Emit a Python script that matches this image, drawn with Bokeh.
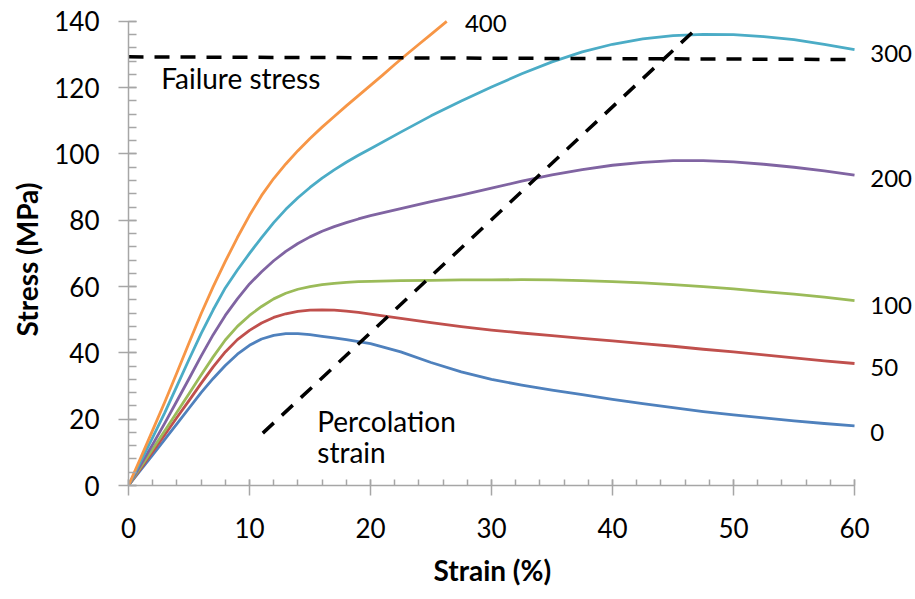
from bokeh.plotting import figure
from bokeh.models import Range1d, SingleIntervalTicker, ColumnDataSource, Title
from bokeh.core.properties import value
from bokeh.embed import file_html
from bokeh.resources import INLINE

# ---------------- data ----------------
strain = [0, 1, 2, 3, 4, 5, 6, 7, 8, 9, 10, 11, 12, 13, 14, 15, 16, 17, 18, 19, 20,
          22.5, 25, 27.5, 30, 32.5, 35, 37.5, 40, 42.5, 45, 47.5, 50, 52.5, 55, 57.5, 60]
stress_0 = [0, 4.6, 9.2, 13.9, 18.6, 23.3, 28.0, 32.3, 36.2, 39.6, 42.3, 44.2, 45.3, 45.8, 45.8,
            45.5, 45.0, 44.5, 44.0, 43.4, 42.8,
            40.3, 37.1, 34.3, 32.0, 30.3, 28.8, 27.4, 26.0, 24.7, 23.5, 22.3, 21.3, 20.4, 19.5, 18.7, 18.0]
stress_50 = [0, 5.1, 10.2, 15.3, 20.5, 25.6, 30.8, 35.8, 40.3, 44.0, 46.8, 49.0, 50.7, 51.8, 52.5,
             52.9, 53.0, 52.9, 52.6, 52.2, 51.7,
             50.4, 49.1, 47.9, 46.9, 46.0, 45.2, 44.4, 43.6, 42.8, 42.0, 41.1, 40.3, 39.4, 38.5, 37.6, 36.8]
stress_100 = [0, 5.5, 11.0, 16.5, 22.1, 27.7, 33.3, 38.8, 43.9, 48.0, 51.3, 54.0, 56.3, 58.0, 59.2,
              60.0, 60.6, 61.0, 61.3, 61.5, 61.6,
              61.8, 61.9, 62.0, 62.0, 62.1, 62.0, 61.8, 61.5, 61.1, 60.6, 60.0, 59.3, 58.5, 57.7, 56.8, 55.8]
stress_200 = [0, 6.2, 12.4, 18.8, 25.5, 32.2, 39.0, 45.5, 51.3, 56.3, 60.8, 64.5, 67.8, 70.6, 73.0,
              75.0, 76.7, 78.1, 79.3, 80.4, 81.4,
              83.5, 85.6, 87.6, 89.7, 91.8, 93.7, 95.3, 96.6, 97.5, 98.0, 98.0, 97.6, 96.9, 96.0, 94.9, 93.6]
stress_300 = [0, 7.2, 14.5, 22.0, 30.0, 38.0, 45.8, 53.0, 59.6, 65.0, 70.0, 74.8, 79.3, 83.3, 86.8,
              89.9, 92.7, 95.2, 97.5, 99.6, 101.6,
              106.6, 111.5, 116.0, 120.2, 124.2, 127.8, 130.8, 133.1, 134.7, 135.7, 136.1, 136.0, 135.4, 134.5, 133.1, 131.5]
strain_400 = [0, 1, 2, 3, 4, 5, 6, 7, 8, 9, 10, 11, 12, 13, 14, 15, 16, 17, 18, 19, 20,
              21, 22, 23, 24, 25, 26, 26.3]
stress_400 = [0, 8.3, 16.7, 25.2, 34.0, 43.0, 51.8, 60.0, 67.6, 74.8, 81.5, 87.5, 92.6, 97.0, 101.0,
              104.7, 108.1, 111.3, 114.5, 117.6, 120.7,
              123.8, 127.0, 130.1, 133.1, 136.1, 139.1, 140.0]

series_names = ["0", "50", "100", "200", "300", "400"]
series_colors = ["#4F81BD", "#C0504D", "#9BBB59", "#8064A2", "#4BACC6", "#F79646"]

failure_x = [0, 60]
failure_y = [129.3, 128.5]
percolation_x = [11.1, 46.6]
percolation_y = [15.8, 136.7]

x_ticks_interval = 10
y_ticks_interval = 20

x_title = "Strain (%)"
y_title = "Stress (MPa)"

# label placement (layout)
name_label_x = [61.3, 61.3, 61.3, 61.3, 61.3, 27.8]
name_label_y = [16.0, 35.6, 54.3, 92.6, 130.3, 139.3]

FONT = "Lato"

p = figure(width=915, height=599, output_backend="svg", toolbar_location=None,
           x_range=Range1d(0, 65.04), y_range=Range1d(0, 146.3),
           min_border_left=128, min_border_right=0, min_border_top=0,
           min_border_bottom=114)
p.outline_line_color = None
p.grid.visible = False
p.background_fill_color = "white"
p.border_fill_color = "white"

xs_all = [strain] * 5 + [strain_400]
ys_all = [stress_0, stress_50, stress_100, stress_200, stress_300, stress_400]
for xs, ys, c in zip(xs_all, ys_all, series_colors):
    p.line(xs, ys, line_color=c, line_width=2.8, line_join="round")

p.line(failure_x, failure_y, line_color="black", line_width=3.5, line_dash="15 11")
p.line(percolation_x, percolation_y, line_color="black", line_width=3.5, line_dash="15 11")

lbl = ColumnDataSource(dict(x=name_label_x, y=name_label_y, t=series_names))
p.text(x="x", y="y", text="t", source=lbl, text_font=value(FONT),
       text_font_size="24px", text_align="left", text_baseline="middle", text_color="black")

ann = ColumnDataSource(dict(x=[2.7, 15.6, 15.6], y=[122.8, 19.6, 10.0],
                            t=["Failure stress", "Percolation", "strain"]))
p.text(x="x", y="y", text="t", source=ann, text_font=value(FONT), text_font_size="28px",
       text_align="left", text_baseline="middle", text_color="black")

for ax in (p.xaxis[0], p.yaxis[0]):
    ax.axis_line_color = "#a6a6a6"
    ax.axis_line_width = 1.5
    ax.major_tick_line_color = "#a6a6a6"
    ax.major_tick_line_width = 1.5
    ax.minor_tick_line_color = "#a6a6a6"
    ax.minor_tick_line_width = 1.5
    ax.major_label_text_font = FONT
    ax.major_label_text_font_size = "26px"
    ax.major_label_text_color = "black"

p.xaxis.bounds = (0, 60)
p.yaxis.bounds = (0, 140)
p.xaxis.ticker = SingleIntervalTicker(interval=x_ticks_interval, num_minor_ticks=5)
p.yaxis.ticker = SingleIntervalTicker(interval=y_ticks_interval, num_minor_ticks=5)
p.xaxis.major_tick_in = 6
p.xaxis.major_tick_out = 10
p.xaxis.minor_tick_in = 6
p.xaxis.minor_tick_out = 0
p.yaxis.major_tick_in = 8
p.yaxis.major_tick_out = 10
p.yaxis.minor_tick_in = 8
p.yaxis.minor_tick_out = 0
p.xaxis.major_label_standoff = 22
p.yaxis.major_label_standoff = 19

# axis titles, centred on the drawn axis extent
p.add_layout(Title(text=x_title, text_font=FONT, text_font_style="bold",
                   text_font_size="28px", align="left", offset=305, standoff=20,
                   text_color="black"), "below")
p.add_layout(Title(text=y_title, text_font=FONT, text_font_style="bold",
                   text_font_size="28px", align="left", offset=149, standoff=15,
                   text_color="black"), "left")

open("out.html", "w").write(file_html(p, INLINE))
